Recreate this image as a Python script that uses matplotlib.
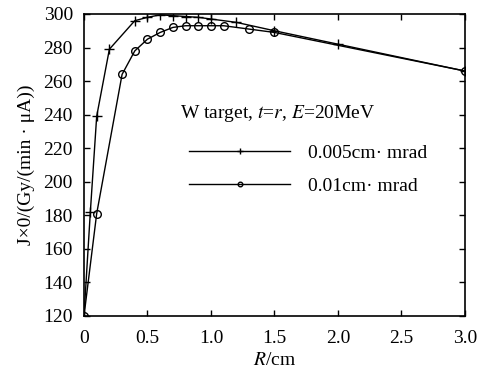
import matplotlib
matplotlib.use("Agg")
import matplotlib.pyplot as plt

plt.rcParams["font.family"] = ["Liberation Serif", "DejaVu Serif"]
plt.rcParams["mathtext.fontset"] = "stix"

# ── データ ──────────────────────────────────────────────
r_005 = [0, 0.05, 0.1, 0.2, 0.4, 0.5, 0.6, 0.7, 0.8, 0.9, 1.0, 1.2, 1.5, 2.0, 3.0]
j_005 = [120, 182, 239, 279, 296, 298, 299.5, 299, 298.5, 298, 297, 295, 290, 282, 266]

r_01 = [0, 0.1, 0.3, 0.4, 0.5, 0.6, 0.7, 0.8, 0.9, 1.0, 1.1, 1.3, 1.5, 3.0]
j_01 = [120, 181, 264, 278, 285, 289, 292, 293, 293, 293, 293, 291, 289, 266]

xticks = [0, 0.5, 1.0, 1.5, 2.0, 2.5, 3.0]
xticklabels = ["0", "0.5", "1.0", "1.5", "2.0", "2.5", "3.0"]
yticks = list(range(120, 301, 20))

# ── プロット ────────────────────────────────────────────
fig = plt.figure(figsize=(4.81, 3.76), dpi=100)
ax = fig.add_axes([0.1746, 0.1596, 0.7921, 0.8032])

ax.plot(r_005, j_005, color="black", lw=1.0, marker="+", ms=7, mew=1.0,
        label="0.005cm· mrad")
ax.plot(r_01, j_01, color="black", lw=1.0, marker="o", ms=5.5, mew=1.0,
        mfc="none", label="0.01cm· mrad")

ax.set_xlim(0, 3.0)
ax.set_ylim(120, 300)
ax.set_xticks(xticks)
ax.set_xticklabels(xticklabels)
ax.set_yticks(yticks)
ax.tick_params(direction="in", top=True, right=True, labelsize=14,
               length=4, width=1.0)
ax.tick_params(axis="x", pad=10)
ax.tick_params(axis="y", pad=8)
for s in ax.spines.values():
    s.set_linewidth(1.2)

ax.set_xlabel("$R$/cm", fontsize=14, labelpad=4)
ax.set_ylabel("J×0/(Gy/(min · μA))", fontsize=14, labelpad=6)

# 凡例タイトル（別テキスト）
ax.text(0.252, 0.672, "W target, $t$=$r$, $E$=20MeV", transform=ax.transAxes,
        fontsize=14, ha="left", va="center")
ax.legend(loc="center left", bbox_to_anchor=(0.276, 0.485), frameon=False,
          fontsize=14, handlelength=5.2, markerscale=0.6,
          labelspacing=0.81, handletextpad=0.9, numpoints=1,
          borderpad=0, borderaxespad=0)

fig.savefig("out.png", dpi=100)
